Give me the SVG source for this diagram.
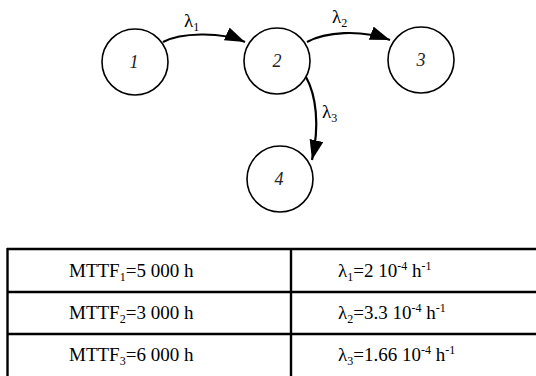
<svg xmlns="http://www.w3.org/2000/svg" width="536" height="376" viewBox="0 0 536 376">
<defs>
<style>
.node{fill:#fff;stroke:#000;stroke-width:1.6}
.nlabel{font-family:"Liberation Serif","Times New Roman",serif;font-style:italic;font-size:18px;fill:#222;text-anchor:middle}
.edge{fill:none;stroke:#000;stroke-width:2.2}
.elabel{font-family:"Liberation Serif","Times New Roman",serif;font-size:19px;fill:#000}
.sub{font-size:12px}
.tline{stroke:#000;stroke-width:2.4;fill:none}
.ttext{font-family:"Liberation Serif","Times New Roman",serif;font-size:19px;fill:#000}
</style>
<marker id="arrow" markerUnits="userSpaceOnUse" markerWidth="22" markerHeight="16" refX="20" refY="7" orient="auto">
<path d="M0,0 L20,7 L0,14 Z" fill="#000"/>
</marker>
</defs>
<g id="connectors">
<path class="edge" d="M163,42 C180,33 220,31 245,42" marker-end="url(#arrow)"/>
<path class="edge" d="M307,42 C325,32 360,29 390,40" marker-end="url(#arrow)"/>
<path class="edge" d="M306,77 C316,95 320,125 312,160" marker-end="url(#arrow)"/>
<text class="elabel" x="184" y="27">λ<tspan class="sub" dy="4">1</tspan></text>
<text class="elabel" x="332" y="23">λ<tspan class="sub" dy="4">2</tspan></text>
<text class="elabel" x="322" y="118">λ<tspan class="sub" dy="4">3</tspan></text>
</g>
<g id="node1"><circle class="node" cx="135" cy="62" r="33"/><text class="nlabel" x="134" y="68">1</text></g>
<g id="node2"><circle class="node" cx="277" cy="61" r="33"/><text class="nlabel" x="277" y="67">2</text></g>
<g id="node3"><circle class="node" cx="421" cy="60" r="33"/><text class="nlabel" x="421" y="66">3</text></g>
<g id="node4"><circle class="node" cx="280" cy="179" r="33"/><text class="nlabel" x="279" y="185">4</text></g>
<g id="table">
<path class="tline" d="M7,249 H540 M7,292 H540 M7,334 H540 M7.5,248 V380 M291,249 V380"/>
<text class="ttext" x="69" y="277">MTTF<tspan class="sub" dy="4">1</tspan><tspan dy="-4">=5 000 h</tspan></text>
<text class="ttext" x="69" y="319">MTTF<tspan class="sub" dy="4">2</tspan><tspan dy="-4">=3 000 h</tspan></text>
<text class="ttext" x="69" y="361">MTTF<tspan class="sub" dy="4">3</tspan><tspan dy="-4">=6 000 h</tspan></text>
<text class="ttext" x="338" y="277">λ<tspan class="sub" dy="4">1</tspan><tspan dy="-4">=2 10</tspan><tspan class="sub" dy="-7">-4</tspan><tspan dy="7"> h</tspan><tspan class="sub" dy="-7">-1</tspan></text>
<text class="ttext" x="338" y="319">λ<tspan class="sub" dy="4">2</tspan><tspan dy="-4">=3.3 10</tspan><tspan class="sub" dy="-7">-4</tspan><tspan dy="7"> h</tspan><tspan class="sub" dy="-7">-1</tspan></text>
<text class="ttext" x="338" y="361">λ<tspan class="sub" dy="4">3</tspan><tspan dy="-4">=1.66 10</tspan><tspan class="sub" dy="-7">-4</tspan><tspan dy="7"> h</tspan><tspan class="sub" dy="-7">-1</tspan></text>
</g>
</svg>
